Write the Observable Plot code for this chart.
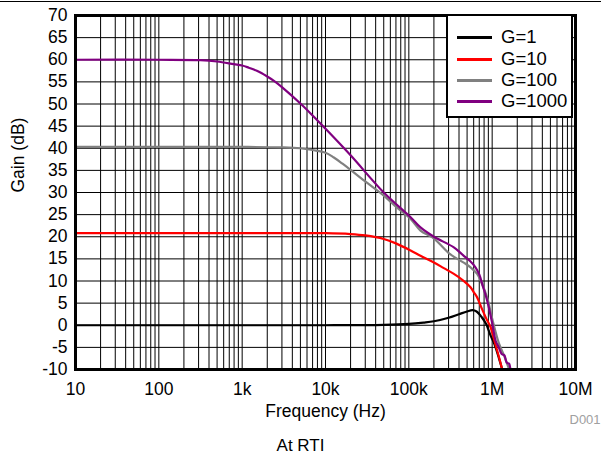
<!DOCTYPE html>
<html>
<head>
<meta charset="utf-8">
<script src="https://cdn.jsdelivr.net/npm/d3@7"></script>
<script src="https://cdn.jsdelivr.net/npm/@observablehq/plot@0.6"></script>
<style>
  html, body { margin: 0; padding: 0; background: white; overflow: hidden; }
  #wrap { position: relative; width: 601px; height: 455px; font-family: "Liberation Sans", Arial, sans-serif; }
  #rule { position: absolute; left: 0; top: 1px; width: 601px; height: 1px; background: black; }
  #legend { position: absolute; left: 446px; top: 14px; width: 127px; height: 104px; border: 2px solid black; background: white; box-sizing: border-box; }
  .item { position: absolute; left: 0; height: 20px; width: 125px; }
  .item span.sw { position: absolute; left: 9px; top: 9px; width: 35px; height: 3px; }
  .item span.lb { position: absolute; left: 53px; top: 0px; font-size: 18.5px; line-height: 20px; color: black; }
  #caption { position: absolute; left: 0; top: 437px; width: 601px; height: 17px; text-align: center; font-size: 17px; line-height: 17px; color: black; }
</style>
</head>
<body>
<div id="wrap">
  <div id="chart"></div>
  <div id="rule"></div>
  <div id="legend"></div>
  <div id="caption">At RTI</div>
</div>
<script>
// ---- data ----
const seriesNames = ["G=1", "G=10", "G=100", "G=1000"];
const seriesColors = ["#000000", "#ff0000", "#808080", "#800080"];

const g1Freq = [10, 1000, 10000, 50000, 100000, 150000, 200000, 300000, 400000, 500000, 580000, 650000, 750000, 850000, 955000, 1050000, 1200000, 1320000];
const g1Gain = [0, 0, 0, 0.1, 0.3, 0.6, 0.9, 1.7, 2.5, 3.1, 3.4, 3.1, 1.8, 0.2, -2.3, -4.0, -7.3, -10];

const g10Freq = [10, 1000, 10000, 20000, 30000, 50000, 70000, 105000, 138000, 200000, 263000, 347000, 450000, 550000, 600000, 660000, 750000, 850000, 955000, 1100000, 1200000, 1320000];
const g10Gain = [20.8, 20.8, 20.8, 20.6, 20.3, 19.5, 18.5, 16.9, 15.7, 14.2, 12.9, 11.6, 10.1, 8.6, 7.5, 6.3, 3.8, 1.5, -0.4, -4.5, -7.0, -10];

const g100Freq = [10, 1000, 3000, 5000, 7000, 10000, 12600, 16000, 20000, 30000, 50000, 70000, 105000, 138000, 200000, 316000, 450000, 550000, 660000, 750000, 870000, 1000000, 1200000, 1400000, 1600000];
const g100Gain = [40.3, 40.3, 40.2, 40.0, 39.6, 39.0, 37.9, 36.5, 35.1, 32.5, 29.3, 26.8, 24.0, 21.4, 19.6, 16.0, 14.2, 13.1, 11.6, 9.5, 6.3, 1.5, -4.0, -7.0, -10];

const g1000Freq = [10, 100, 316, 500, 794, 1000, 1200, 1500, 2000, 2500, 3000, 5000, 7000, 10000, 20000, 50000, 105000, 138000, 200000, 347000, 450000, 550000, 630000, 700000, 760000, 870000, 1000000, 1100000, 1200000, 1300000, 1400000, 1500000, 1600000, 1660000, 1750000];
const g1000Gain = [60.0, 60.0, 59.9, 59.6, 59.0, 58.7, 58.2, 57.5, 56.2, 55.0, 53.8, 50.1, 47.4, 44.4, 38.4, 30.0, 24.4, 22.1, 20.0, 17.6, 15.8, 14.4, 13.1, 11.5, 9.3, 5.6, 0.5, -3.5, -5.0, -6.5, -6.8, -8.5, -8.7, -9.8, -10];

const xTicks = [10, 100, 1000, 10000, 100000, 1000000, 10000000];
const xTickLabels = ["10", "100", "1k", "10k", "100k", "1M", "10M"];
const yTicks = [-10, -5, 0, 5, 10, 15, 20, 25, 30, 35, 40, 45, 50, 55, 60, 65, 70];

// ---- build table ----
const freqs = [g1Freq, g10Freq, g100Freq, g1000Freq];
const gains = [g1Gain, g10Gain, g100Gain, g1000Gain];
const rows = [];
seriesNames.forEach((s, k) => {
  freqs[k].forEach((f, i) => rows.push({series: s, f, g: gains[k][i]}));
});

// minor log grid positions (1..9 x each decade)
const xGrid = [];
for (let d = 10; d < 1e7; d *= 10) for (let m = 1; m <= 9; m++) xGrid.push(d * m);
xGrid.push(1e7);

const chart = Plot.plot({
  width: 601,
  height: 430,
  marginLeft: 75,
  marginRight: 26,
  marginTop: 15,
  marginBottom: 61,
  style: {fontFamily: "'Liberation Sans', Arial, sans-serif", fontSize: "17.5px", color: "black", background: "white", overflow: "visible"},
  x: {type: "log", domain: [10, 1e7]},
  y: {domain: [-10, 70]},
  color: {domain: seriesNames, range: seriesColors},
  marks: [
    Plot.ruleX(xGrid, {stroke: "black", strokeWidth: 1}),
    Plot.ruleY(yTicks, {stroke: "black", strokeWidth: 1}),
    Plot.line(rows, {x: "f", y: "g", z: "series", stroke: "series", strokeWidth: 2.2, curve: "catmull-rom", clip: true}),
    Plot.frame({stroke: "black", strokeWidth: 3}),
    Plot.axisX(xTicks, {tickSize: 0, tickPadding: 13, tickFormat: d => xTickLabels[xTicks.indexOf(d)], label: null, fontSize: 17.5}),
    Plot.axisY(yTicks, {tickSize: 0, tickPadding: 8, tickFormat: d => String(d), label: null, fontSize: 17.5}),
    Plot.text(["Frequency (Hz)"], {frameAnchor: "bottom", dy: 42, lineAnchor: "middle", fontSize: 17.5}),
    Plot.text(["Gain (dB)"], {frameAnchor: "left", dx: -57, rotate: -90, lineAnchor: "middle", fontSize: 17.5}),
    Plot.text(["D001"], {frameAnchor: "bottom-right", dx: -6, dy: 50, textAnchor: "start", lineAnchor: "middle", fill: "#a0a0a0", fontSize: 13})
  ]
});
document.getElementById("chart").appendChild(chart);

// legend
const legend = document.getElementById("legend");
const legendTops = [11, 33, 54, 75];
seriesNames.forEach((s, i) => {
  const it = document.createElement("div");
  it.className = "item";
  it.style.top = legendTops[i] + "px";
  it.innerHTML = `<span class="sw" style="background:${seriesColors[i]}"></span><span class="lb">${s}</span>`;
  legend.appendChild(it);
});
</script>
</body>
</html>
